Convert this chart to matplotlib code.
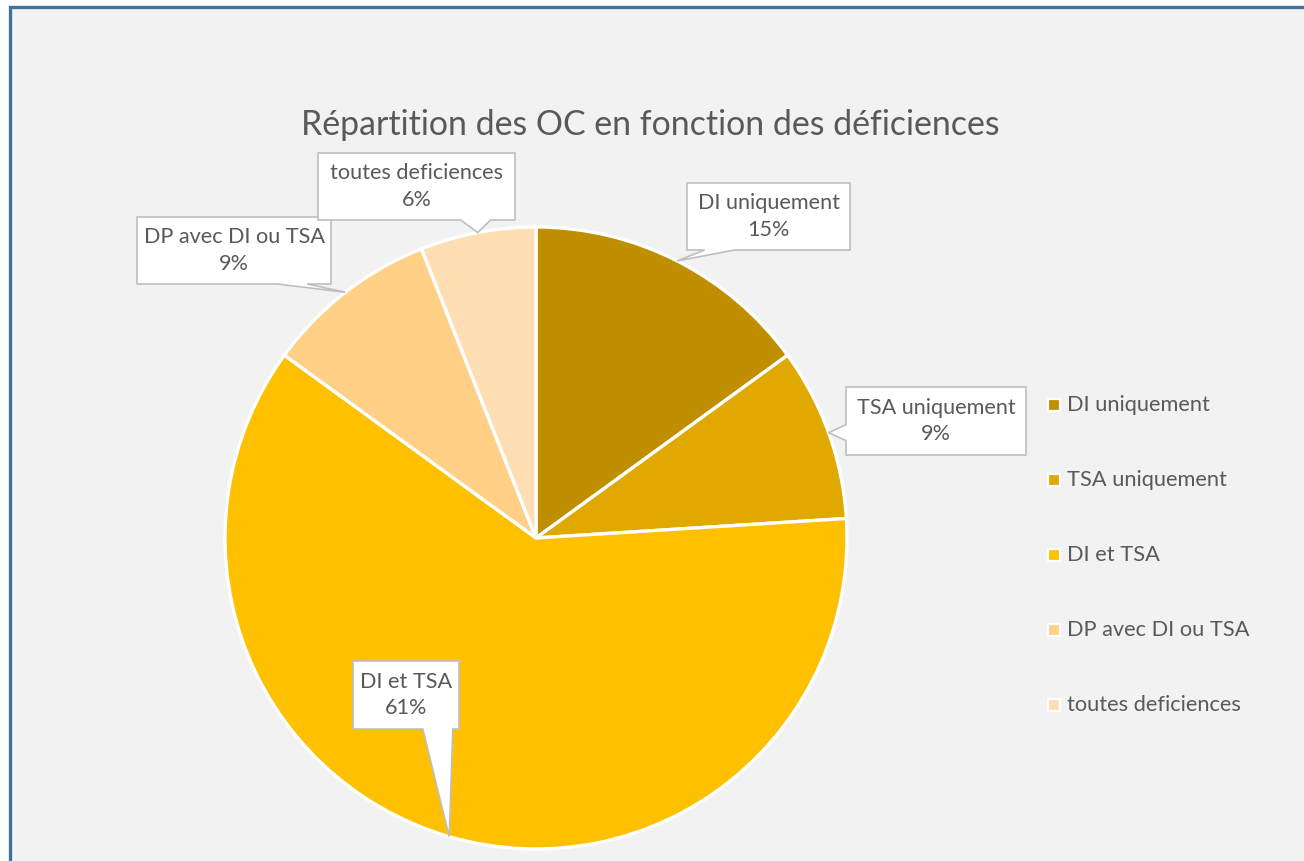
import matplotlib.pyplot as plt
import numpy as np
from matplotlib.patches import Polygon, Rectangle

# data
categories = ["DI uniquement", "TSA uniquement", "DI et TSA",
              "DP avec DI ou TSA", "toutes deficiences"]
shares = [15, 9, 61, 9, 6]
colors = ["#BF8F00", "#E0A800", "#FFC000", "#FFD085", "#FFDEB3"]
title = "Répartition des OC en fonction des déficiences"

# layout, in pixels from the top-left corner
W, H = 1304, 861
pie_center = (536, 538)
pie_radius = 311
label_boxes = [(687, 183, 850, 250),
               (846, 387, 1026, 455),
               (353, 661, 459, 729),
               (137, 217, 331, 284),
               (318, 153, 515, 220)]
legend_x = 1054
legend_y0, legend_step = 405, 75

text_col = "#595959"
plt.rcParams["font.family"] = ["Lato", "DejaVu Sans"]

fig = plt.figure(figsize=(W / 100, H / 100), dpi=100, facecolor="white")
ax = fig.add_axes([0, 0, 1, 1])


def Y(y):
    return H - y


# chart area with the blue frame on top/left
ax.add_patch(Rectangle((10, -20), W + 20, Y(7) + 20, facecolor="#F2F2F2",
                       edgecolor="#41719C", linewidth=2.4, zorder=0))

wedges, _ = ax.pie(shares, colors=colors, startangle=90, counterclock=False,
                   center=(pie_center[0], Y(pie_center[1])), radius=pie_radius,
                   wedgeprops=dict(edgecolor="white", linewidth=2.4))
ax.set_xlim(0, W)
ax.set_ylim(0, H)
ax.set_aspect("equal")
ax.axis("off")

ax.text(650, Y(135), title, ha="center", va="baseline", fontsize=24.4,
        color=text_col)

# callout labels pointing at the middle of each wedge
for wd, cat, val, (x0, y0, x1, y1) in zip(wedges, categories, shares, label_boxes):
    mid = np.deg2rad((wd.theta1 + wd.theta2) / 2)
    tx = pie_center[0] + pie_radius * np.cos(mid)
    ty = pie_center[1] - pie_radius * np.sin(mid)
    w, h = x1 - x0, y1 - y0
    if ty > y1:
        bc = np.clip(tx, x0 + 0.2 * w, x1 - 0.2 * w)
        pts = [(x0, y0), (x1, y0), (x1, y1), (bc + 15, y1), (tx, ty),
               (bc - 15, y1), (x0, y1)]
    elif ty < y0:
        bc = np.clip(tx, x0 + 0.2 * w, x1 - 0.2 * w)
        pts = [(x0, y0), (bc - 15, y0), (tx, ty), (bc + 15, y0), (x1, y0),
               (x1, y1), (x0, y1)]
    elif tx < x0:
        bc = np.clip(ty, y0 + 0.2 * h, y1 - 0.2 * h)
        pts = [(x0, y0), (x1, y0), (x1, y1), (x0, y1), (x0, bc + 8),
               (tx, ty), (x0, bc - 8)]
    else:
        bc = np.clip(ty, y0 + 0.2 * h, y1 - 0.2 * h)
        pts = [(x0, y0), (x1, y0), (x1, bc - 8), (tx, ty), (x1, bc + 8),
               (x1, y1), (x0, y1)]
    pts = [(px, Y(py)) for px, py in pts]
    ax.add_patch(Polygon(pts, closed=True, facecolor="white",
                         edgecolor="#BFBFBF", linewidth=1.2, zorder=3))
    ax.text((x0 + x1) / 2, Y((y0 + y1) / 2), f"{cat}\n{val}%", ha="center",
            va="center", fontsize=15.6, color=text_col, linespacing=1.4,
            zorder=4)

# legend
for i, (cat, c) in enumerate(zip(categories, colors)):
    yc = Y(legend_y0 + i * legend_step)
    ax.add_patch(Rectangle((legend_x - 6, yc - 6), 12, 12, facecolor=c,
                           edgecolor="white", linewidth=1.6, zorder=3))
    ax.text(legend_x + 13, yc, cat, ha="left", va="center", fontsize=15.7,
            color=text_col)

fig.savefig("out.png", dpi=100, facecolor="white")
